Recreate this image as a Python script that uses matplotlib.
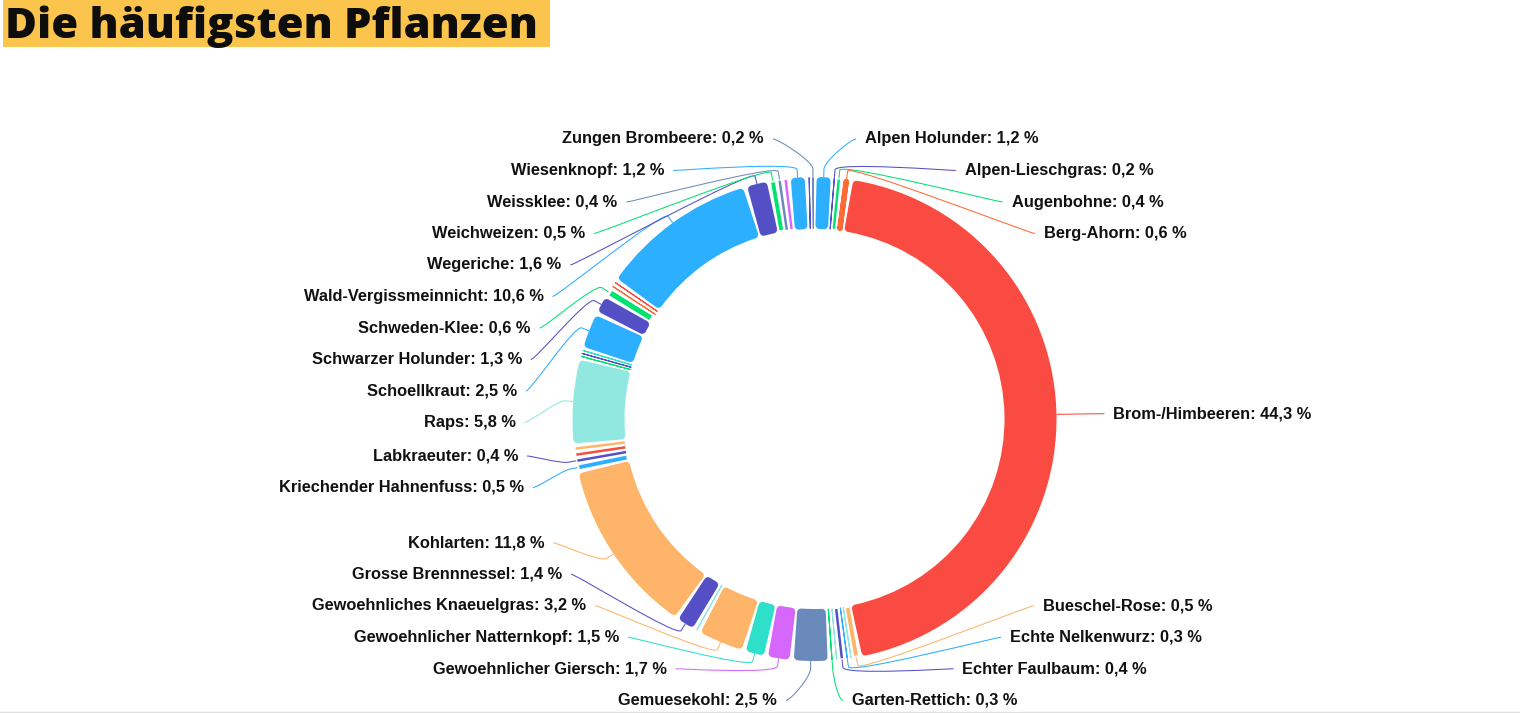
import numpy as np
import matplotlib
matplotlib.use("Agg")
import matplotlib.pyplot as plt
from matplotlib.patches import Rectangle, PathPatch
from matplotlib.path import Path
from matplotlib.lines import Line2D

# ---------------- data ----------------
title = "Die häufigsten Pflanzen"
labels = ["Alpen Holunder", "Alpen-Lieschgras", "Augenbohne", "Berg-Ahorn", "Brom-/Himbeeren",
          "Bueschel-Rose", "", "Echte Nelkenwurz", "Echter Faulbaum", "", "Garten-Rettich",
          "Gemuesekohl", "Gewoehnlicher Giersch", "Gewoehnlicher Natternkopf",
          "Gewoehnliches Knaeuelgras", "", "Grosse Brennnessel", "Kohlarten",
          "Kriechender Hahnenfuss", "Labkraeuter", "", "", "Raps", "", "", "",
          "Schoellkraut", "Schwarzer Holunder", "Schweden-Klee", "", "",
          "Wald-Vergissmeinnicht", "Wegeriche", "Weichweizen", "Weissklee", "",
          "Wiesenknopf", "", "Zungen Brombeere"]
values = [1.2, 0.2, 0.4, 0.6, 44.3,
          0.5, 0.2, 0.3, 0.4, 0.3, 0.3,
          2.5, 1.7, 1.5,
          3.2, 0.3, 1.4, 11.8,
          0.5, 0.4, 0.4, 0.4, 5.8, 0.2, 0.2, 0.2,
          2.5, 1.3, 0.6, 0.3, 0.3,
          10.6, 1.6, 0.5, 0.4, 0.4,
          1.2, 0.3, 0.2]
colors = ["#2caffe", "#544fc5", "#00e272", "#fe6a35", "#fa4b42",
          "#feb56a", "#91e8e1", "#2caffe", "#544fc5", "#91e8e1", "#00e272",
          "#6b8abc", "#d568fb", "#2ee0ca",
          "#feb56a", "#91e8e1", "#544fc5", "#feb56a",
          "#2caffe", "#544fc5", "#fa4b42", "#feb56a", "#91e8e1", "#00e272", "#544fc5", "#2ee0ca",
          "#2caffe", "#544fc5", "#00e272", "#fe6a35", "#fa4b42",
          "#2caffe", "#544fc5", "#00e272", "#6b8abc", "#d568fb",
          "#2caffe", "#544fc5", "#6b8abc"]

# ---------------- layout ----------------
W, H = 1520, 713
DPI = 100
CX, CY_IMG = 814.5, 419.0
CY = H - CY_IMG
R_OUT = 242.0
RING = 52.0
LABEL_R = 282.0
BOX = 31.5
FONT = ["Liberation Sans", "DejaVu Sans"]

fig = plt.figure(figsize=(W / DPI, H / DPI), dpi=DPI)
fig.patch.set_facecolor("white")
ax = fig.add_axes([0, 0, 1, 1])

wedges, _ = ax.pie(values, colors=colors, startangle=90, counterclock=False,
                   radius=R_OUT, center=(CX, CY), wedgeprops=dict(width=RING))
ax.set_xlim(0, W)
ax.set_ylim(0, H)
ax.set_aspect("equal")
ax.axis("off")

orig = [(w.theta1, w.theta2) for w in wedges]

# rounded slices with gaps
gap = 3.0
rc = 4.0
rm = R_OUT - RING / 2
for w in wedges:
    t1, t2 = w.theta1, w.theta2
    arc = np.deg2rad(t2 - t1) * rm
    avail = arc - gap
    rce = min(rc, avail / 2)
    if rce < 0.6:
        lw_px = max(avail, 1.1)
        mid = (t1 + t2) / 2
        w.set_theta1(mid - 0.001)
        w.set_theta2(mid + 0.001)
        w.set_radius(R_OUT - lw_px / 2)
        w.set_width(RING - lw_px)
        w.set_linewidth(lw_px * 72 / DPI)
    else:
        dth = np.rad2deg((gap / 2 + rce) / rm)
        w.set_theta1(t1 + dth)
        w.set_theta2(t2 - dth)
        w.set_radius(R_OUT - rce)
        w.set_width(RING - 2 * rce)
        w.set_linewidth(2 * rce * 72 / DPI)
    w.set_edgecolor(w.get_facecolor())
    w.set_joinstyle("round")


def distribute(targets, size, lo, hi):
    order = sorted(range(len(targets)), key=lambda i: targets[i])
    boxes = [{"m": [i]} for i in order]

    def place(b):
        n = len(b["m"])
        p = np.mean([targets[m] - (k + 0.5) * size for k, m in enumerate(b["m"])])
        b["pos"] = min(max(p, lo), hi - n * size)

    for b in boxes:
        place(b)
    i = 0
    while i < len(boxes) - 1:
        a, b = boxes[i], boxes[i + 1]
        if a["pos"] + len(a["m"]) * size > b["pos"] + 1e-6:
            a["m"] += b["m"]
            boxes.pop(i + 1)
            place(a)
            i = max(i - 1, 0)
        else:
            i += 1
    res = {}
    for b in boxes:
        for k, m in enumerate(b["m"]):
            res[m] = b["pos"] + (k + 0.5) * size
    return res


# label positions
items = {"L": [], "R": []}
for idx, (lab, (t1, t2)) in enumerate(zip(labels, orig)):
    if not lab:
        continue
    mid = np.deg2rad((t1 + t2) / 2)
    side = "R" if np.cos(mid) > 0 else "L"
    nat_y = CY_IMG - LABEL_R * np.sin(mid)
    items[side].append((idx, mid, nat_y))

lo, hi = 123.25, 716.0
for side, lst in items.items():
    ys = distribute([it[2] for it in lst], BOX, lo, hi)
    sgn = 1 if side == "R" else -1
    for k, (idx, mid, _) in enumerate(lst):
        y_img = ys[k]
        dy = min(abs(y_img - CY_IMG), LABEL_R)
        anchor = CX + sgn * np.sqrt(LABEL_R ** 2 - dy ** 2)
        y = H - y_img
        end_x = anchor + sgn * 8
        txt_x = anchor + sgn * 17
        bx = CX + (R_OUT + 8) * np.cos(mid)
        by = CY + (R_OUT + 8) * np.sin(mid)
        tx = CX + R_OUT * np.cos(mid)
        ty = CY + R_OUT * np.sin(mid)
        verts = [(end_x, y), (end_x - sgn * 5, y), (2 * bx - tx, 2 * by - ty), (bx, by), (tx, ty)]
        codes = [Path.MOVETO, Path.CURVE4, Path.CURVE4, Path.CURVE4, Path.LINETO]
        ax.add_patch(PathPatch(Path(verts, codes), facecolor="none", edgecolor=colors[idx],
                               lw=0.75, zorder=1))
        s = f"{labels[idx]}: {values[idx]:.1f} %".replace(".", ",")
        ax.text(txt_x, y, s, ha="left" if side == "R" else "right", va="center",
                fontsize=11.8, fontweight="bold", family=FONT, color="#111111")

# title
fig.patches.append(Rectangle((3 / W, 1 - 47 / H), 547 / W, 47 / H, transform=fig.transFigure,
                             facecolor="#fbc44c", edgecolor="none", zorder=0))
t = fig.text(5 / W, 1 - 38 / H, title, fontsize=30, fontweight="heavy",
             family=["Open Sans", "DejaVu Sans"], ha="left", va="baseline", color="#0d0d0d")
fig.canvas.draw()
bb = t.get_window_extent(renderer=fig.canvas.get_renderer())
t.set_fontsize(30 * 532.0 / bb.width)

fig.add_artist(Line2D([0, 1], [1.5 / H, 1.5 / H], transform=fig.transFigure,
                      color="#e0e0e0", lw=1))

fig.savefig("out.png", dpi=DPI, facecolor="white")
